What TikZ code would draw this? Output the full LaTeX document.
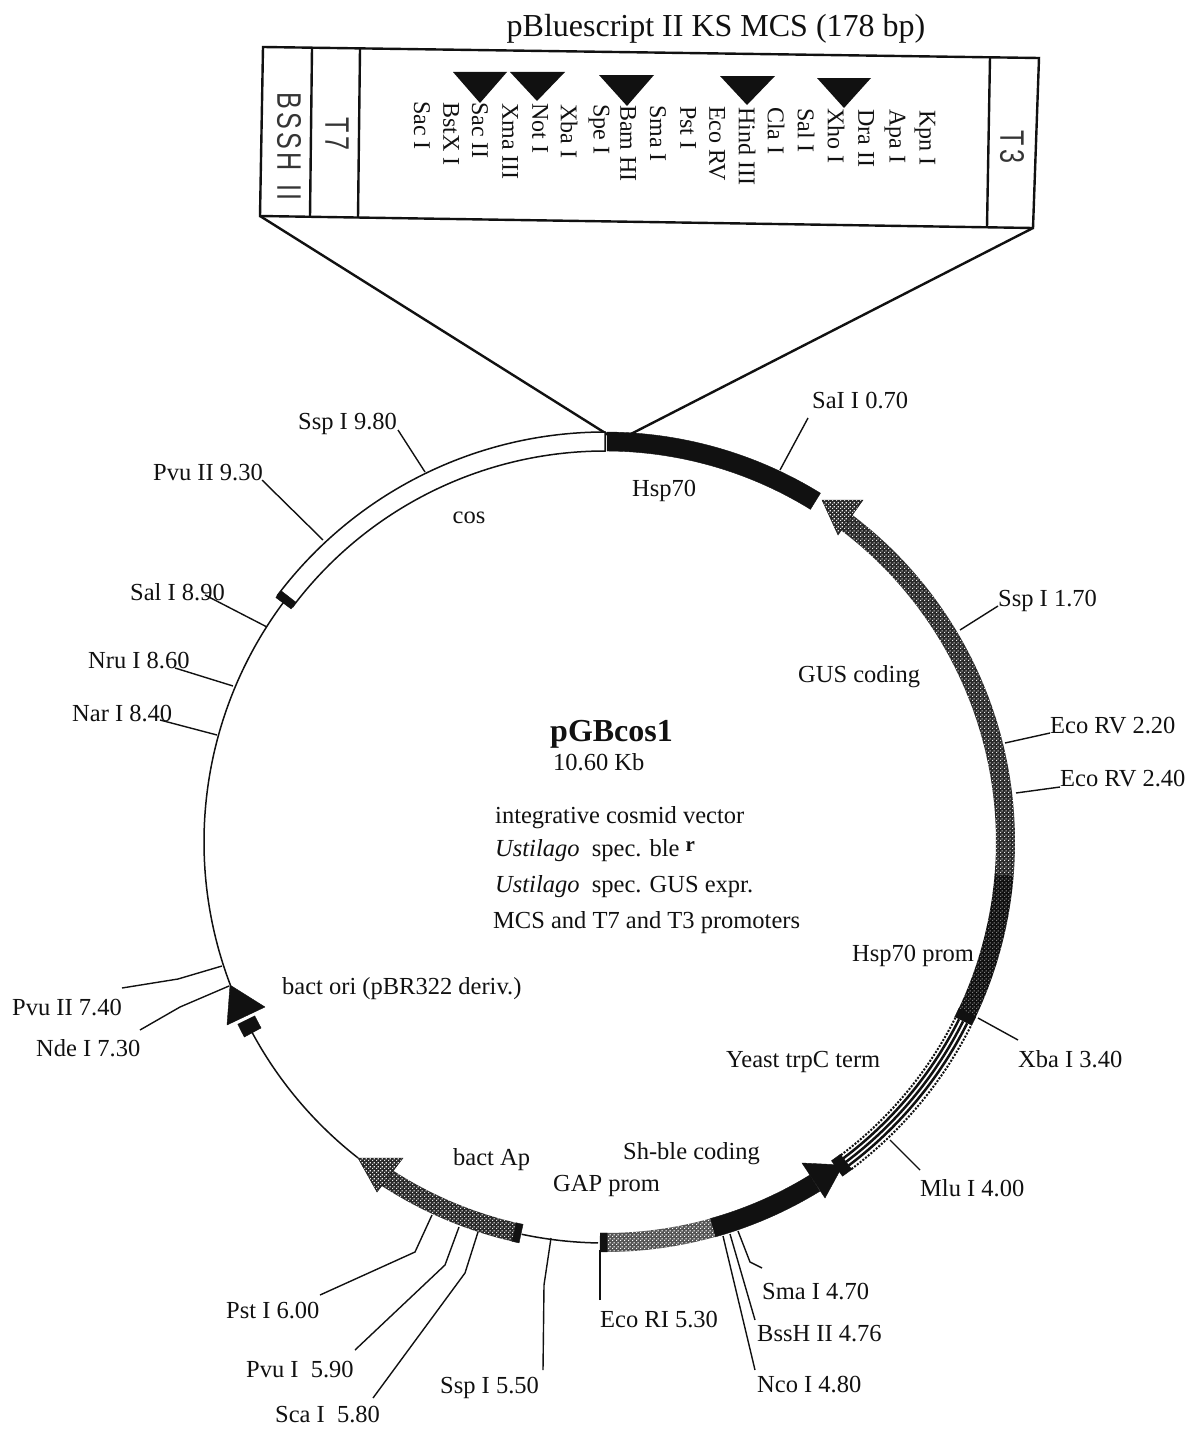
\documentclass[tikz,border=0pt]{standalone}
\usepackage{fontspec}
\setmainfont{Liberation Serif}
\newfontfamily\promofont[FakeStretch=0.74,LetterSpace=10]{Liberation Sans}
\usepackage{xcolor}
\usepackage{tikz}
\usetikzlibrary{patterns,calc}
\definecolor{ink}{HTML}{111111}
\definecolor{gusgray}{HTML}{2A2A2A}
\definecolor{gapgray}{HTML}{555555}
\definecolor{hspgray}{HTML}{101010}
\pgfdeclarepatternformonly{chk}{\pgfqpoint{0pt}{0pt}}{\pgfqpoint{4pt}{4pt}}{\pgfqpoint{4pt}{4pt}}{%
  \pgfpathrectangle{\pgfqpoint{0pt}{0pt}}{\pgfqpoint{1.4pt}{1.4pt}}%
  \pgfpathrectangle{\pgfqpoint{2pt}{2pt}}{\pgfqpoint{1.4pt}{1.4pt}}%
  \pgfusepath{fill}}
% annular piece of the plasmid ring, angles in degrees
\newcommand{\ringseg}[3][]{\path[#1] (#2:410) arc[start angle=#2,end angle=#3,radius=410]
  -- (#3:391) arc[start angle=#3,end angle=#2,radius=391] -- cycle;}
\tikzset{
  lbl/.style={inner sep=0pt, anchor=west, yshift=-1.5pt, text=ink, font=\fontsize{24.5}{27}\selectfont},
  mcs/.style={inner sep=0pt, anchor=west, rotate=-90, text=ink, font=\fontsize{24}{26}\selectfont},
  promo/.style={inner sep=0pt, rotate=-90, text=ink!85, font=\promofont\fontsize{34}{36}\selectfont},
  leader/.style={draw=ink, line width=1.4pt},
  boxline/.style={draw=ink, line width=2.4pt},
  ring/.style={draw=ink, line width=1.5pt},
  solidseg/.style={fill=ink, draw=ink, line width=.4pt},
  gusseg/.style={preaction={fill=gusgray}, pattern=chk, pattern color=white!85!gray},
  hspseg/.style={preaction={fill=hspgray}, pattern=chk, pattern color=gray},
  gapseg/.style={preaction={fill=gapgray}, pattern=chk, pattern color=white},
  whiteseg/.style={fill=white, draw=ink, line width=1.5pt},
  sitemark/.style={fill=ink}
}
\begin{document}
\begin{tikzpicture}[x=1pt,y=1pt]
 \useasboundingbox[fill=white] (0,0) rectangle (1197,-1437);
 \coordinate (cen) at (605,-842);
 %% the MCS box
 \node[lbl, anchor=center, font=\fontsize{32}{35}\selectfont] (mcstitle) at (716,-27) {pBluescript II KS MCS (178 bp)};
 \coordinate (tl) at (263,-47); \coordinate (tr) at (1039,-58);
 \coordinate (br) at (1033,-228); \coordinate (bl) at (260,-216);
 \draw[boxline] (tl) -- (tr) -- (br) -- (bl) -- cycle;
 \draw[boxline] (312,-48) -- (310,-217); \draw[boxline] (360,-49) -- (358,-218); \draw[boxline] (990,-57) -- (987,-227);
 \coordinate (gapl) at (610,-436); \coordinate (gapr) at (625,-437);
 \draw[boxline] (bl) -- (gapl); \draw[boxline] (br) -- (gapr);
 \node[promo, anchor=west] (bssh) at (289,-92) {BSSH\hspace{14pt}I\hspace{2pt}I};
 \node[promo] (tseven) at (337,-134) {T7};
 \node[promo] (tthree) at (1012,-147) {T3};
 \fill[sitemark] (453,-72) -- (507,-72) -- (480,-103) -- cycle;
 \fill[sitemark] (510,-72) -- (565,-72) -- (537,-101) -- cycle;
 \fill[sitemark] (599,-75) -- (654,-75) -- (627,-106) -- cycle;
 \fill[sitemark] (720,-76) -- (775,-76) -- (747,-105) -- cycle;
 \fill[sitemark] (817,-78) -- (871,-78) -- (844,-108) -- cycle;
 \node[mcs] (saci) at (422,-101) {Sac I};
 \node[mcs] (bstx) at (451,-102) {BstX I};
 \node[mcs] (sacii) at (480,-102) {Sac II};
 \node[mcs] (xma) at (510,-103) {Xma III};
 \node[mcs] (noti) at (540,-103) {Not I};
 \node[mcs] (xbai) at (569,-104) {Xba I};
 \node[mcs] (spei) at (599,-104) {Spe I};
 \node[mcs] (bam) at (628,-105) {Bam HI};
 \node[mcs] (smai) at (658,-105) {Sma I};
 \node[mcs] (psti) at (688,-106) {Pst I};
 \node[mcs] (ecorv) at (717,-106) {Eco RV};
 \node[mcs] (hind) at (747,-107) {Hind III};
 \node[mcs] (clai) at (776,-107) {Cla I};
 \node[mcs] (sali) at (806,-108) {Sal I};
 \node[mcs] (xhoi) at (836,-108) {Xho I};
 \node[mcs] (drai) at (866,-109) {Dra II};
 \node[mcs] (apai) at (895,-109) {Apa I};
 \node[mcs] (kpni) at (925,-110) {Kpn I};
 %% the plasmid ring
 \begin{scope}[shift={(cen)}]
  \draw[ring] (208:401) arc[start angle=208,end angle=232,radius=401];
  \draw[ring] (143:401) arc[start angle=143,end angle=201,radius=401];
  \draw[ring] (258:401) arc[start angle=258,end angle=269,radius=401];
  \ringseg[whiteseg]{90}{143}
  \ringseg[solidseg]{142.2}{143.4}
  \ringseg[solidseg]{58.3}{89.7}
  \ringseg[gusseg]{-4.7}{53}
  \ringseg[hspseg]{-25.4}{-4.7}
  \ringseg[solidseg]{-26.6}{-25.2}
  \ringseg[fill=white]{-53}{-26.6}
  \draw[ink, line width=2pt, dash pattern=on 2pt off 1.5pt] (-53:392) arc[start angle=-53,end angle=-26.6,radius=392];
  \draw[ink, line width=2pt, dash pattern=on 2pt off 1.5pt] (-53:409.5) arc[start angle=-53,end angle=-26.6,radius=409.5];
  \draw[ink, line width=2.5pt] (-53:396) arc[start angle=-53,end angle=-26.6,radius=396];
  \draw[ink, line width=2.5pt] (-53:400.5) arc[start angle=-53,end angle=-26.6,radius=400.5];
  \draw[ink, line width=2.5pt] (-53:405) arc[start angle=-53,end angle=-26.6,radius=405];
  \ringseg[solidseg]{-54.6}{-53}
  \ringseg[solidseg]{-74.4}{-58.4}
  \ringseg[gapseg]{-89.7}{-74.4}
  \ringseg[solidseg]{-90.7}{-89.7}
  \ringseg[gusseg]{237}{257}
  \ringseg[solidseg]{256.9}{257.9}
  \ringseg[solidseg]{206.4}{208.4}
 \end{scope}
 %% arrow heads
 \path[gusseg, draw=ink, line width=.4pt] (822,-500) -- (863,-500) -- (838,-535) -- cycle;
 \path[solidseg] (843,-1165) -- (802,-1163) -- (825,-1198) -- cycle;
 \path[gusseg, draw=ink, line width=.4pt] (358,-1158) -- (403,-1158) -- (377,-1192) -- cycle;
 \path[solidseg, line join=round] (230,-985) -- (227,-1025) -- (265,-1007) -- cycle;
 %% restriction sites
 \node[lbl] (sal07) at (812,-399) {SaI I 0.70};
 \node[lbl] (ssp17) at (998,-599) {Ssp I 1.70};
 \node[lbl] (eco22) at (1050,-724) {Eco RV 2.20};
 \node[lbl] (eco24) at (1060,-777) {Eco RV 2.40};
 \node[lbl] (xba34) at (1018,-1058) {Xba I 3.40};
 \node[lbl] (mlu40) at (920,-1187) {Mlu I 4.00};
 \node[lbl] (sma47) at (762,-1290) {Sma I 4.70};
 \node[lbl] (bss476) at (757,-1332) {BssH II 4.76};
 \node[lbl] (nco48) at (757,-1383) {Nco I 4.80};
 \node[lbl] (eco53) at (600,-1318) {Eco RI 5.30};
 \node[lbl] (ssp55) at (440,-1386) {Ssp I 5.50};
 \node[lbl] (sca58) at (275,-1413) {Sca I\ \ 5.80};
 \node[lbl] (pvu59) at (246,-1368) {Pvu I\ \ 5.90};
 \node[lbl] (pst60) at (226,-1309) {Pst I 6.00};
 \node[lbl] (nde73) at (36,-1047) {Nde I 7.30};
 \node[lbl] (pvu74) at (12,-1006) {Pvu II 7.40};
 \node[lbl] (nar84) at (72,-712) {Nar I 8.40};
 \node[lbl] (nru86) at (88,-659) {Nru I 8.60};
 \node[lbl] (sal89) at (130,-591) {Sal I 8.90};
 \node[lbl] (pvu93) at (153,-471) {Pvu II 9.30};
 \node[lbl] (ssp98) at (298,-422) {Ssp I 9.80};
 %% where the leaders meet the ring
 \coordinate (r07) at (780,-470); \coordinate (r17) at (960,-630);
 \coordinate (r22) at (1005,-743); \coordinate (r24) at (1016,-793);
 \coordinate (r34) at (978,-1018); \coordinate (r40) at (890,-1140);
 \coordinate (r47) at (738,-1231); \coordinate (r476) at (730,-1234);
 \coordinate (r48) at (723,-1236); \coordinate (r53) at (600,-1250);
 \coordinate (r55) at (551,-1238); \coordinate (r58) at (478,-1232);
 \coordinate (r59) at (459,-1227); \coordinate (r60) at (432,-1215);
 \coordinate (r73) at (229,-986); \coordinate (r74) at (222,-966);
 \coordinate (r84) at (217,-735); \coordinate (r86) at (233,-686);
 \coordinate (r89) at (267,-627); \coordinate (r93) at (323,-540);
 \coordinate (r98) at (425,-472);
 \draw[leader] ([shift={(-4,-17.5)}]sal07.west) -- (r07);
 \draw[leader] ([shift={(0,-5.5)}]ssp17.west) -- (r17);
 \draw[leader] ([shift={(0,-7.5)}]eco22.west) -- (r22);
 \draw[leader] ([shift={(0,-8.5)}]eco24.west) -- (r24);
 \draw[leader] ([shift={(0,19.5)}]xba34.west) -- (r34);
 \draw[leader] ([shift={(0,18.5)}]mlu40.west) -- (r40);
 \draw[leader] ([shift={(0,23.5)}]sma47.west) -- (750,-1262) -- (r47);
 \draw[leader] ([shift={(-2,13.5)}]bss476.west) -- (r476);
 \draw[leader] ([shift={(-2,14.5)}]nco48.west) -- (r48);
 \draw[leader] ([shift={(0,19.5)}]eco53.west) -- (r53);
 \draw[leader] ([shift={(103,17.5)}]ssp55.west) -- (544,-1285) -- (r55);
 \draw[leader] ([shift={(98,16.5)}]sca58.west) -- (465,-1273) -- (r58);
 \draw[leader] ([shift={(109,19.5)}]pvu59.west) -- (445,-1265) -- (r59);
 \draw[leader] ([shift={(94,15.5)}]pst60.west) -- (415,-1252) -- (r60);
 \draw[leader] ([shift={(104,18.5)}]nde73.west) -- (180,-1007) -- (r73);
 \draw[leader] ([shift={(110,19.5)}]pvu74.west) -- (178,-979) -- (r74);
 \draw[leader] ([shift={(88,-6.5)}]nar84.west) -- (r84);
 \draw[leader] ([shift={(87,-7.5)}]nru86.west) -- (r86);
 \draw[leader] ([shift={(75,-2.5)}]sal89.west) -- (r89);
 \draw[leader] ([shift={(109,-7.5)}]pvu93.west) -- (r93);
 \draw[leader] ([shift={(100,-6.5)}]ssp98.west) -- (r98);
 %% feature names and the centre text
 \node[lbl, anchor=center] (cos) at (469,-516) {cos};
 \node[lbl] (hsp) at (632,-489) {Hsp70};
 \node[lbl] (gus) at (798,-675) {GUS coding};
 \node[lbl, font=\fontsize{32}{35}\selectfont\bfseries] (name) at (550,-733) {pGBcos1};
 \node[lbl] (size) at (553,-761) {10.60 Kb};
 \node[lbl] (desca) at (495,-816) {integrative cosmid vector};
 \node[lbl] (descb) at (495,-849) {\textit{Ustilago}\ \ spec. ble \raisebox{5pt}{\fontsize{21}{21}\selectfont\bfseries r}};
 \node[lbl] (descc) at (495,-885) {\textit{Ustilago}\ \ spec. GUS expr.};
 \node[lbl] (descd) at (493,-921) {MCS and T7 and T3 promoters};
 \node[lbl] (hspprom) at (852,-954) {Hsp70 prom};
 \node[lbl] (yeast) at (726,-1060) {Yeast trpC term};
 \node[lbl] (bori) at (282,-987) {bact ori (pBR322 deriv.)};
 \node[lbl] (bap) at (453,-1158) {bact Ap};
 \node[lbl] (shble) at (623,-1152) {Sh-ble coding};
 \node[lbl] (gapp) at (553,-1184) {GAP prom};
\end{tikzpicture}
\end{document}
